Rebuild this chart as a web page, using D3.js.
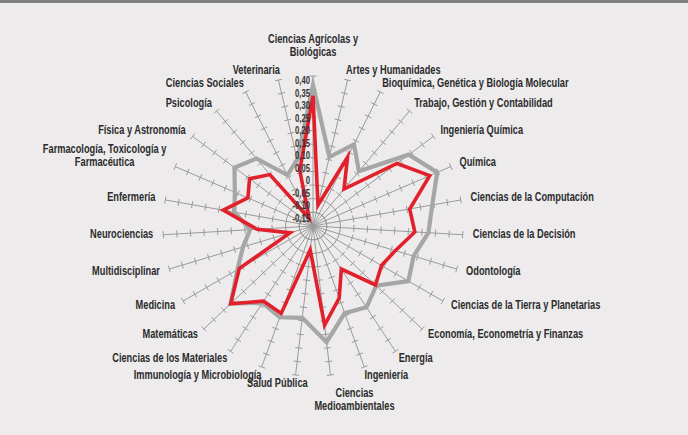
<!DOCTYPE html>
<html><head><meta charset="utf-8">
<script src="https://cdn.jsdelivr.net/npm/d3@7"></script>
<style>
html,body{margin:0;padding:0;background:#edebec;overflow:hidden}
svg{display:block}
</style></head><body>
<svg id="chart" width="688" height="435"></svg>
<script>
const categories = [
  "Ciencias Agrícolas y\nBiológicas",
  "Artes y Humanidades",
  "Bioquímica, Genética y Biología Molecular",
  "Trabajo, Gestión y Contabilidad",
  "Ingeniería Química",
  "Química",
  "Ciencias de la Computación",
  "Ciencias de la Decisión",
  "Odontología",
  "Ciencias de la Tierra y Planetarias",
  "Economía, Econometría y Finanzas",
  "Energía",
  "Ingeniería",
  "Ciencias\nMedioambientales",
  "Salud Pública",
  "Immunología y Microbiología",
  "Ciencias de los Materiales",
  "Matemáticas",
  "Medicina",
  "Multidisciplinar",
  "Neurociencias",
  "Enfermería",
  "Farmacología, Toxicología y\nFarmacéutica",
  "Física y Astronomía",
  "Psicología",
  "Ciencias Sociales",
  "Veterinaria"
];
const seriesGray = [0.367, 0.110, 0.185, 0.112, 0.288, 0.346, 0.294, 0.274, 0.235, 0.254, 0.169, 0.207, 0.190, 0.279, 0.189, 0.206, 0.187, 0.265, 0.170, 0.118, 0.081, 0.143, 0.162, 0.209, 0.173, 0.059, 0.100];
const seriesRed  = [0.327, -0.071, 0.132, 0.027, 0.234, 0.316, 0.210, 0.224, 0.165, 0.140, 0.165, 0.039, 0.131, 0.216, -0.062, 0.191, 0.180, 0.265, 0.162, -0.062, 0.055, 0.184, 0.110, 0.140, 0.096, -0.117, 0.060];
const tickValues = [-0.15, -0.10, -0.05, 0, 0.05, 0.10, 0.15, 0.20, 0.25, 0.30, 0.35, 0.40];
const tickLabels = ["-0,15", "-0,10", "-0,05", "0", "0,05", "0,10", "0,15", "0,20", "0,25", "0,30", "0,35", "0,40"];

const svg = d3.select("#chart");
const W = 688, H = 435;
const cx = 313, cy = 226, R = 150;
const FONT = "'Liberation Sans', Arial, sans-serif";
const SX = 0.74;           // horizontal squeeze to mimic condensed face
const axisColor = "#9b9b9b";

svg.append("rect").attr("width", W).attr("height", H).attr("fill", "#edebec");
svg.append("rect").attr("width", W).attr("height", 3).attr("fill", "#808080");

const n = categories.length;
const angle = d3.scaleLinear().domain([0, n]).range([0, 2 * Math.PI]);
const r = d3.scaleLinear().domain([-0.15, 0.40]).range([0, R]);
const labelY = d3.scaleLinear().domain([-0.15, 0.40]).range([cy - 8, cy - 146]);

const g = svg.append("g").attr("transform", `translate(${cx},${cy})`);

// axes + tick marks
const axes = g.append("g");
categories.forEach((c, i) => {
  const a = angle(i), dx = Math.sin(a), dy = -Math.cos(a);
  axes.append("line")
    .attr("x1", 0).attr("y1", 0)
    .attr("x2", dx * R).attr("y2", dy * R)
    .attr("stroke", axisColor).attr("stroke-width", 1);
  tickValues.slice(1).forEach(v => {
    const rr = r(v), px = -dy, py = dx, h = 3.5;
    axes.append("line")
      .attr("x1", dx * rr - px * h).attr("y1", dy * rr - py * h)
      .attr("x2", dx * rr + px * h).attr("y2", dy * rr + py * h)
      .attr("stroke", axisColor).attr("stroke-width", 1);
  });
});

const radial = d3.lineRadial()
  .angle((d, i) => angle(i))
  .radius(d => r(d))
  .curve(d3.curveLinearClosed);

g.append("path").datum(seriesGray).attr("d", radial)
  .attr("fill", "none").attr("stroke", "#a6a6a6").attr("stroke-width", 4.2)
  .attr("stroke-linejoin", "miter").attr("stroke-miterlimit", 8);
g.append("path").datum(seriesRed).attr("d", radial)
  .attr("fill", "none").attr("stroke", "#e2202b").attr("stroke-width", 3.6)
  .attr("stroke-linejoin", "miter").attr("stroke-miterlimit", 8);

// value tick labels
svg.append("g").selectAll("text").data(tickValues).join("text")
  .attr("transform", d => `translate(${cx - 3},${labelY(d)}) scale(0.7,1)`)
  .attr("dy", "0.36em")
  .attr("text-anchor", "end")
  .attr("font-family", FONT).attr("font-weight", "bold").attr("font-size", 11)
  .attr("fill", "#333")
  .text((d, i) => tickLabels[i]);

// category labels
const lg = svg.append("g");
const lineH = 13.5;
categories.forEach((c, i) => {
  const a = angle(i), dx = Math.sin(a), dy = -Math.cos(a);
  const lines = c.split("\n");
  const t = lg.append("text")
    .attr("font-family", FONT).attr("font-weight", "bold").attr("font-size", 12.5)
    .attr("fill", "#2b2b2b").attr("text-anchor", "middle");
  lines.forEach((ln, k) => t.append("tspan").attr("x", 0).attr("dy", k === 0 ? 0 : lineH).text(ln));
  const w = SX * d3.max(t.selectAll("tspan").nodes(), nd => nd.getComputedTextLength());
  const h = lines.length * lineH;
  const ex = cx + dx * R, ey = cy + dy * R;
  const gap = 15 * Math.abs(dx) - 5;
  let mx;
  if (Math.abs(dx) < 0.05) mx = ex;
  else if (Math.abs(dx) < 0.2) mx = ex + Math.sign(dx) * 0.6 * w / 2;
  else mx = ex + Math.sign(dx) * (gap + w / 2);
  let yc = ey + dy * (h / 2 + (lines.length > 1 ? 12 : 2.5));
  if (i === 0) yc -= 4; // clear the value-axis labels
  const top = yc - h / 2;
  t.attr("transform", `translate(${mx},${top + lineH * 0.72}) scale(${SX},1)`);
});
</script>
</body></html>
